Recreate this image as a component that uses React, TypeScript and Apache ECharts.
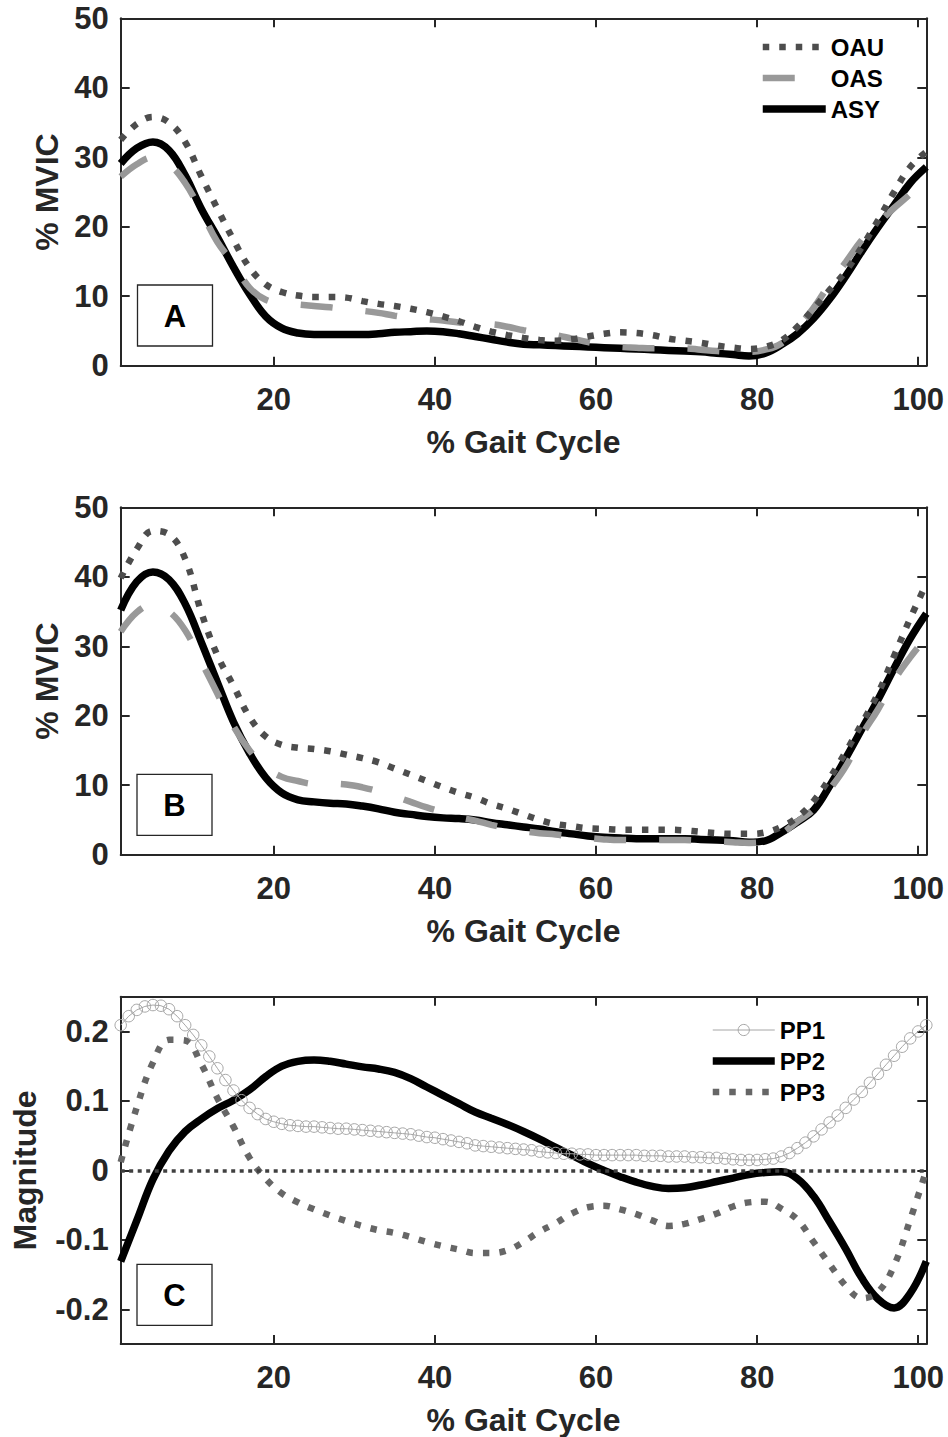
import React, { useEffect, useRef } from 'react';
import * as echarts from 'echarts';

// ---------- data ----------
const X_COARSE = [1, 3, 5, 7, 9, 11, 13, 15, 17, 19, 21, 23, 25, 27, 29, 31, 33, 35, 37, 39, 41, 43, 45, 47, 49, 51, 53, 55, 57, 59, 61, 63, 65, 67, 69, 71, 73, 75, 77, 79, 81, 83, 85, 87, 89, 91, 93, 95, 97, 99, 101];
const X_FINE = [1, 2, 3, 4, 5, 6, 7, 8, 9, 10, 11, 12, 13, 14, 15, 16, 17, 18, 19, 20, 21, 22, 23, 24, 25, 26, 27, 28, 29, 30, 31, 32, 33, 34, 35, 36, 37, 38, 39, 40, 41, 42, 43, 44, 45, 46, 47, 48, 49, 50, 51, 52, 53, 54, 55, 56, 57, 58, 59, 60, 61, 62, 63, 64, 65, 66, 67, 68, 69, 70, 71, 72, 73, 74, 75, 76, 77, 78, 79, 80, 81, 82, 83, 84, 85, 86, 87, 88, 89, 90, 91, 92, 93, 94, 95, 96, 97, 98, 99, 100, 101];
const X_TICKS = [20, 40, 60, 80, 100];
const MAG_TICKS = [-0.2, -0.1, 0, 0.1, 0.2];

// Panel A (% MVIC)
const A_OAU = [32.5, 34.8, 35.8, 35.0, 32.2, 27.3, 22.6, 18.1, 14.1, 11.7, 10.6, 10.1, 9.9, 9.9, 9.8, 9.3, 8.9, 8.6, 8.2, 7.7, 7.1, 6.4, 5.6, 4.9, 4.4, 4.0, 3.7, 3.6, 3.8, 4.2, 4.6, 4.8, 4.7, 4.4, 3.9, 3.6, 3.3, 2.9, 2.6, 2.4, 2.7, 3.6, 5.6, 8.2, 10.9, 13.6, 17.1, 20.9, 25.0, 28.6, 30.8];
const A_OAS = [27.2, 29.0, 30.0, 29.0, 26.3, 22.2, 17.8, 14.7, 11.2, 9.5, 9.0, 8.8, 8.6, 8.4, 8.1, 7.9, 7.6, 7.2, 6.9, 6.7, 6.5, 6.2, 6.0, 5.95, 5.6, 5.1, 4.7, 4.4, 3.9, 3.4, 3.0, 2.7, 2.6, 2.5, 2.5, 2.5, 2.3, 2.1, 2.0, 2.0, 2.3, 3.2, 5.5, 8.3, 11.8, 14.9, 18.1, 20.5, 22.7, 24.7, 27.0];
const A_ASY = [29.1, 31.3, 32.2, 31.0, 27.4, 22.6, 18.5, 14.2, 10.3, 7.1, 5.4, 4.7, 4.5, 4.5, 4.5, 4.5, 4.6, 4.8, 4.9, 5.0, 4.9, 4.6, 4.2, 3.8, 3.4, 3.1, 3.0, 2.9, 2.8, 2.7, 2.6, 2.5, 2.4, 2.3, 2.2, 2.1, 2.0, 1.8, 1.6, 1.4, 1.8, 3.0, 4.6, 6.8, 9.6, 12.9, 16.5, 19.9, 23.1, 26.3, 28.6];

// Panel B (% MVIC)
const B_OAU = [39.8, 44.0, 46.6, 46.1, 42.6, 34.9, 28.7, 24.3, 19.8, 17.0, 15.8, 15.4, 15.2, 14.9, 14.4, 13.9, 13.3, 12.4, 11.5, 10.6, 9.7, 8.9, 8.2, 7.3, 6.6, 5.8, 5.0, 4.4, 4.1, 3.8, 3.7, 3.6, 3.6, 3.6, 3.6, 3.5, 3.3, 3.1, 3.0, 3.0, 3.2, 4.0, 5.4, 7.7, 11.0, 14.8, 18.9, 23.2, 28.6, 34.0, 39.0];
const B_OAS = [32.1, 34.9, 36.0, 35.0, 32.3, 27.8, 23.2, 18.5, 15.0, 12.6, 11.2, 10.6, 10.2, 10.2, 10.1, 9.7, 9.1, 8.4, 7.6, 6.8, 6.1, 5.4, 4.9, 4.3, 3.8, 3.4, 3.1, 2.9, 2.6, 2.4, 2.2, 2.1, 2.1, 2.1, 2.1, 2.1, 2.0, 1.9, 1.8, 1.7, 1.9, 3.0, 4.8, 6.5, 9.4, 12.7, 17.2, 20.9, 25.1, 28.4, 31.3];
const B_ASY = [35.2, 39.3, 40.7, 39.6, 36.1, 30.6, 24.8, 19.1, 14.6, 11.1, 8.9, 7.9, 7.6, 7.4, 7.3, 7.0, 6.6, 6.1, 5.8, 5.5, 5.3, 5.2, 5.0, 4.6, 4.3, 4.0, 3.7, 3.3, 3.0, 2.7, 2.5, 2.4, 2.3, 2.3, 2.3, 2.3, 2.2, 2.1, 2.0, 1.8, 2.0, 3.2, 4.7, 6.4, 9.9, 13.9, 18.1, 22.3, 26.8, 31.1, 34.7];

// Panel C (Magnitude)
const C_PP1 = [0.209, 0.222, 0.231, 0.236, 0.238, 0.237, 0.232, 0.222, 0.209, 0.195, 0.180, 0.164, 0.147, 0.130, 0.115, 0.101, 0.090, 0.081, 0.074, 0.070, 0.067, 0.065, 0.064, 0.063, 0.063, 0.062, 0.061, 0.060, 0.060, 0.059, 0.058, 0.057, 0.056, 0.055, 0.054, 0.053, 0.052, 0.050, 0.048, 0.047, 0.045, 0.043, 0.041, 0.039, 0.036, 0.035, 0.034, 0.033, 0.032, 0.031, 0.030, 0.029, 0.027, 0.026, 0.025, 0.024, 0.024, 0.023, 0.023, 0.022, 0.022, 0.022, 0.022, 0.022, 0.022, 0.021, 0.021, 0.021, 0.020, 0.020, 0.020, 0.019, 0.019, 0.018, 0.018, 0.017, 0.016, 0.015, 0.015, 0.015, 0.016, 0.017, 0.020, 0.025, 0.032, 0.040, 0.049, 0.059, 0.069, 0.079, 0.090, 0.102, 0.113, 0.126, 0.139, 0.152, 0.165, 0.178, 0.190, 0.200, 0.209];
const C_PP2 = [-0.131, -0.072, -0.013, 0.028, 0.056, 0.074, 0.089, 0.101, 0.116, 0.135, 0.150, 0.157, 0.159, 0.157, 0.153, 0.149, 0.146, 0.141, 0.132, 0.120, 0.108, 0.096, 0.084, 0.075, 0.066, 0.056, 0.045, 0.033, 0.022, 0.010, 0.000, -0.009, -0.017, -0.023, -0.026, -0.025, -0.021, -0.016, -0.011, -0.006, -0.003, -0.002, -0.012, -0.037, -0.074, -0.113, -0.155, -0.185, -0.198, -0.177, -0.131];
const C_PP3 = [0.012, 0.091, 0.155, 0.188, 0.187, 0.153, 0.104, 0.063, 0.018, -0.012, -0.033, -0.046, -0.056, -0.065, -0.073, -0.080, -0.086, -0.090, -0.096, -0.103, -0.109, -0.114, -0.119, -0.119, -0.115, -0.103, -0.088, -0.076, -0.062, -0.053, -0.051, -0.056, -0.063, -0.072, -0.080, -0.077, -0.070, -0.062, -0.052, -0.046, -0.045, -0.055, -0.071, -0.103, -0.135, -0.166, -0.184, -0.175, -0.137, -0.071, 0.000];

// ---------- styling ----------
const FONT = '"Liberation Sans", Arial, Helvetica, sans-serif';
const AX = '#262626';
const GRID_LEFT = 120.7;
const GRID_W = 805.6;
const GRID_H = 347.4;
const GRID_TOPS = [18.3, 507.3, 996.7];

const S_OAU = { color: '#4d4d4d', width: 6.5, type: [6.5, 10] as number[] };
const S_OAS = { color: '#999999', width: 6.5, type: [32, 33] as number[] };
const S_ASY = { color: '#000000', width: 7.5, type: 'solid' };
const S_PP1 = { color: '#a6a6a6', width: 1, type: 'solid' };
const S_PP2 = { color: '#000000', width: 7.5, type: 'solid' };
const S_PP3 = { color: '#666666', width: 6.5, type: [6.5, 10] as number[] };

const pairs = (xs: number[], ys: number[]) => xs.map((x, i) => [x, ys[i]]);

function xAxes(gi: number) {
  const line = { show: true, onZero: false, lineStyle: { color: AX, width: 2 } };
  const tick = { show: true, inside: true, length: 9, customValues: X_TICKS, lineStyle: { color: AX, width: 2 } };
  return [
    {
      type: 'value', gridIndex: gi, position: 'bottom', min: 1, max: 101,
      axisLine: line, axisTick: tick,
      axisLabel: { customValues: X_TICKS, margin: 18, color: AX, fontSize: 31, fontWeight: 'bold', fontFamily: FONT },
      splitLine: { show: false },
      name: '% Gait Cycle', nameLocation: 'middle', nameGap: 60,
      nameTextStyle: { color: AX, fontSize: 32, fontWeight: 'bold', fontFamily: FONT },
    },
    {
      type: 'value', gridIndex: gi, position: 'top', min: 1, max: 101,
      axisLine: line, axisTick: tick,
      axisLabel: { show: false, customValues: X_TICKS },
      splitLine: { show: false },
    },
  ];
}

function yAxes(gi: number) {
  const isMag = gi === 2;
  const line = { show: true, onZero: false, lineStyle: { color: AX, width: 2 } };
  const base: any = isMag
    ? { min: -0.25, max: 0.25 }
    : { min: 0, max: 50, interval: 10 };
  const tick: any = { show: true, inside: true, length: 9, lineStyle: { color: AX, width: 2 } };
  const lab: any = { margin: 12, color: AX, fontSize: 31, fontWeight: 'bold', fontFamily: FONT };
  if (isMag) {
    tick.customValues = MAG_TICKS;
    lab.customValues = MAG_TICKS;
  }
  return [
    {
      type: 'value', gridIndex: gi, position: 'left', ...base,
      axisLine: line, axisTick: tick, axisLabel: lab,
      splitLine: { show: false },
      name: isMag ? 'Magnitude' : '% MVIC', nameLocation: 'middle', nameRotate: 90,
      nameGap: isMag ? 80 : 55,
      nameTextStyle: { color: AX, fontSize: 32, fontWeight: 'bold', fontFamily: FONT },
    },
    {
      type: 'value', gridIndex: gi, position: 'right', ...base,
      axisLine: line, axisTick: tick,
      axisLabel: { show: false, customValues: isMag ? MAG_TICKS : undefined },
      splitLine: { show: false },
    },
  ];
}

function lineSeries(name: string, gi: number, xs: number[], ys: number[], ls: any, extra: any = {}) {
  return {
    type: 'line', name, xAxisIndex: gi * 2, yAxisIndex: gi * 2,
    data: pairs(xs, ys), smooth: 0.4, symbol: 'none', silent: true,
    lineStyle: { color: ls.color, width: ls.width, type: ls.type, cap: 'butt' },
    itemStyle: { color: ls.color },
    emphasis: { disabled: true },
    ...extra,
  };
}

function panelBox(letter: string, x: number, y: number) {
  return [
    {
      type: 'rect', z: 100,
      shape: { x, y, width: 75, height: 61 },
      style: { fill: '#ffffff', stroke: AX, lineWidth: 1.3 },
    },
    {
      type: 'text', z: 101, x: x + 37.5, y: y + 31,
      style: { text: letter, fill: '#000000', fontSize: 31, fontWeight: 'bold', fontFamily: FONT, align: 'center', verticalAlign: 'middle' },
    },
  ];
}

const legendText = { fontSize: 24, fontWeight: 'bold', fontFamily: FONT, color: '#000000', lineHeight: 24 };
const hiddenSym = { opacity: 0 };

const option: any = {
  animation: false,
  backgroundColor: '#ffffff',
  grid: GRID_TOPS.map((top) => ({ left: GRID_LEFT, top, width: GRID_W, height: GRID_H, containLabel: false, outerBoundsMode: 'none' })),
  xAxis: [...xAxes(0), ...xAxes(1), ...xAxes(2)],
  yAxis: [...yAxes(0), ...yAxes(1), ...yAxes(2)],
  legend: [
    {
      orient: 'vertical', left: 754, top: 30, itemWidth: 63, itemHeight: 14, itemGap: 7,
      selectedMode: false, textStyle: legendText,
      data: [
        { name: 'OAU', itemStyle: hiddenSym, lineStyle: { width: S_OAU.width, type: S_OAU.type, color: S_OAU.color } },
        { name: 'OAS', itemStyle: hiddenSym, lineStyle: { width: S_OAS.width, type: S_OAS.type, color: S_OAS.color } },
        { name: 'ASY', itemStyle: hiddenSym, lineStyle: { width: S_ASY.width, type: 'solid', color: S_ASY.color } },
      ],
    },
    {
      orient: 'vertical', left: 704, top: 1013, itemWidth: 62, itemHeight: 14, itemGap: 7,
      selectedMode: false, textStyle: legendText,
      data: [
        { name: 'PP1', itemStyle: { color: 'rgba(0,0,0,0)', borderColor: S_PP1.color, borderWidth: 1 }, lineStyle: { width: 1, type: 'solid', color: S_PP1.color } },
        { name: 'PP2', itemStyle: hiddenSym, lineStyle: { width: S_PP2.width, type: 'solid', color: S_PP2.color } },
        { name: 'PP3', itemStyle: hiddenSym, lineStyle: { width: S_PP3.width, type: S_PP3.type, color: S_PP3.color } },
      ],
    },
  ],
  series: [
    lineSeries('ASY', 0, X_COARSE, A_ASY, S_ASY),
    lineSeries('OAS', 0, X_COARSE, A_OAS, S_OAS),
    lineSeries('OAU', 0, X_COARSE, A_OAU, S_OAU),
    lineSeries('ASY', 1, X_COARSE, B_ASY, S_ASY),
    lineSeries('OAS', 1, X_COARSE, B_OAS, S_OAS),
    lineSeries('OAU', 1, X_COARSE, B_OAU, S_OAU),
    lineSeries('PP2', 2, X_COARSE, C_PP2, S_PP2, {
      markLine: {
        silent: true, symbol: ['none', 'none'], label: { show: false },
        lineStyle: { color: '#404040', width: 3.5, type: [4, 4.5] },
        data: [{ yAxis: 0 }],
      },
    }),
    {
      type: 'line', name: 'PP1', xAxisIndex: 4, yAxisIndex: 4,
      data: pairs(X_FINE, C_PP1), smooth: false, silent: true,
      symbol: 'circle', symbolSize: 11.5, showSymbol: true,
      lineStyle: { color: S_PP1.color, width: 1 },
      itemStyle: { color: 'rgba(0,0,0,0)', borderColor: S_PP1.color, borderWidth: 1 },
      emphasis: { disabled: true },
    },
    lineSeries('PP3', 2, X_COARSE, C_PP3, S_PP3),
  ],
  graphic: [
    ...panelBox('A', 137.5, 285),
    ...panelBox('B', 137, 774.3),
    ...panelBox('C', 137, 1264.3),
  ],
};

export default function App() {
  const ref = useRef<HTMLDivElement>(null);
  useEffect(() => {
    document.body.style.margin = '0';
    const chart = echarts.init(ref.current as HTMLDivElement, null, { renderer: 'svg' });
    chart.setOption(option);
    return () => chart.dispose();
  }, []);
  return <div ref={ref} style={{ width: 948, height: 1437 }} />;
}
